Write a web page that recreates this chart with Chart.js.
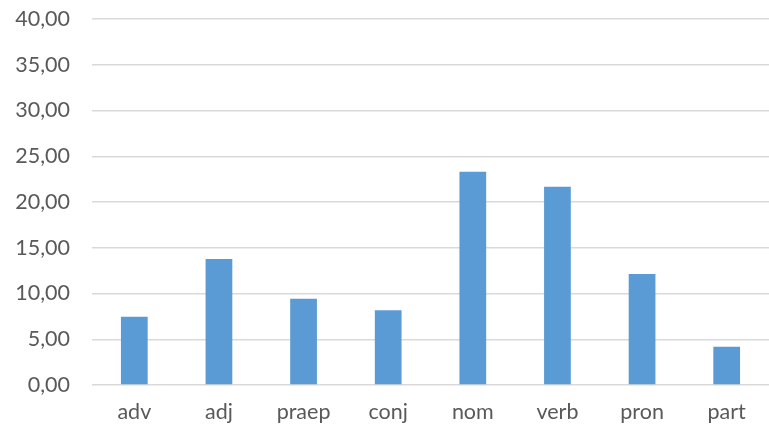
<!DOCTYPE html>
<html>
<head>
<meta charset="utf-8">
<script src="https://cdn.jsdelivr.net/npm/chart.js@4/dist/chart.umd.min.js"></script>
<style>
  html, body { margin: 0; padding: 0; background: #ffffff; }
  #wrap { width: 769px; height: 431px; }
</style>
</head>
<body>
<div id="wrap"><canvas id="c" width="769" height="431"></canvas></div>
<script>
// Part-of-speech shares (%)
const categories = ['adv', 'adj', 'praep', 'conj', 'nom', 'verb', 'pron', 'part'];
const shares = [7.46, 13.77, 9.43, 8.16, 23.31, 21.67, 12.13, 4.19];
const yTicks = [0, 5, 10, 15, 20, 25, 30, 35, 40];

const fmt = v => v.toFixed(2).replace('.', ',');

new Chart(document.getElementById('c'), {
  type: 'bar',
  data: {
    labels: categories,
    datasets: [{
      data: shares,
      backgroundColor: '#5B9BD5',
      borderWidth: 0,
      barPercentage: 0.316,
      categoryPercentage: 1.0
    }]
  },
  options: {
    responsive: false,
    animation: false,
    layout: { padding: { top: 19, right: 0, bottom: 0, left: 0 } },
    plugins: { legend: { display: false }, tooltip: { enabled: false } },
    scales: {
      x: {
        grid: { display: false, drawTicks: false },
        border: { display: false },
        ticks: {
          color: '#595959',
          font: { family: 'Lato', size: 21.5 },
          padding: 14
        },
        afterFit: s => { s.height = 46; s.paddingLeft = 0; s.paddingRight = 0; }
      },
      y: {
        min: 0,
        max: 40,
        afterBuildTicks: s => { s.ticks = yTicks.map(v => ({ value: v })); },
        grid: { color: '#d9d9d9', lineWidth: 1.5, drawTicks: false },
        border: { display: false },
        ticks: {
          color: '#595959',
          font: { family: 'Lato', size: 21.5 },
          padding: 22,
          callback: v => fmt(v)
        },
        afterFit: s => { s.width = 92; s.paddingTop = 0; s.paddingBottom = 0; }
      }
    }
  }
});
</script>
</body>
</html>
